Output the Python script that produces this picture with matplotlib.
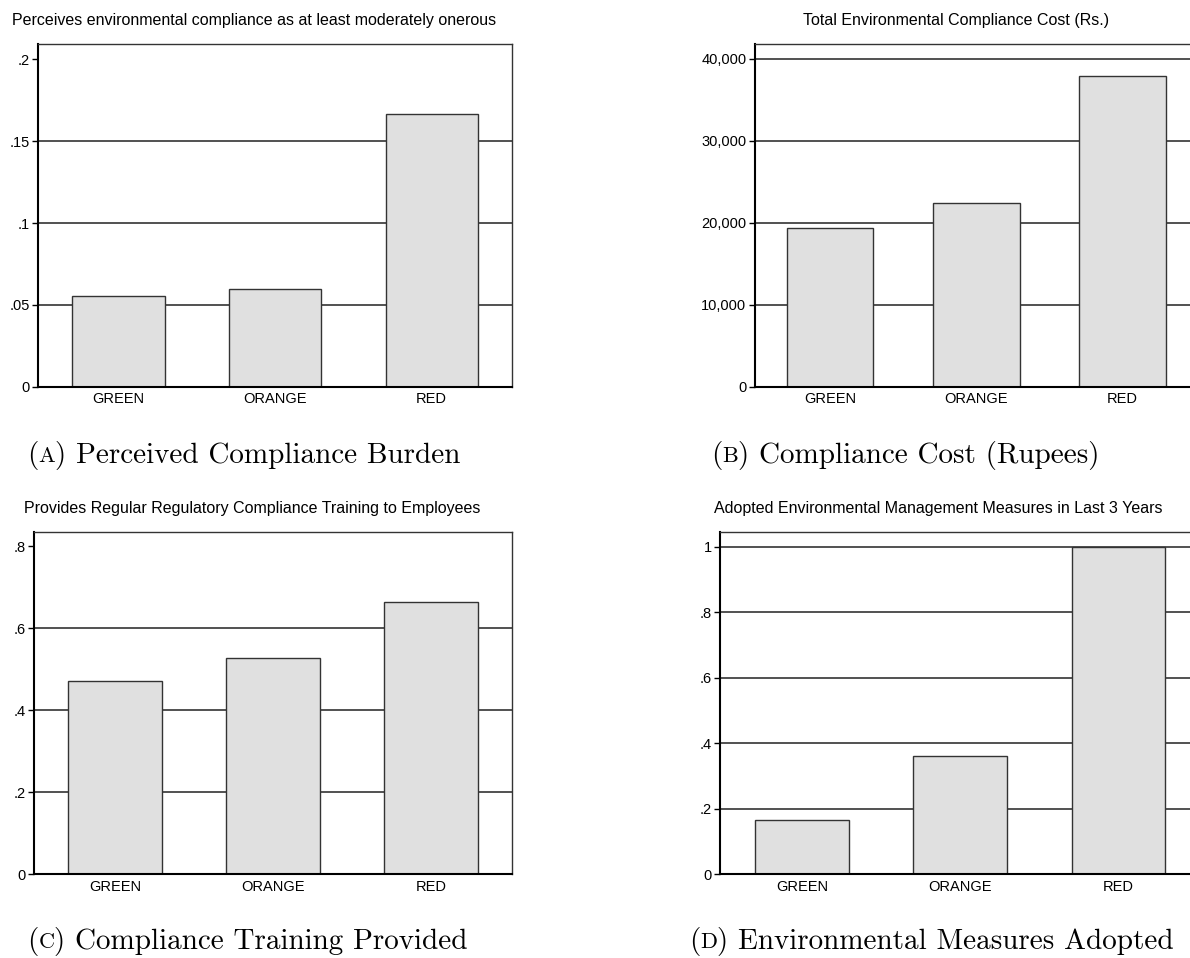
"""
Four bar panels comparing GREEN / ORANGE / RED category firms on
environmental compliance indicators (Stata-style look).
"""

import matplotlib
matplotlib.use("Agg")
import matplotlib.pyplot as plt
from matplotlib.offsetbox import TextArea, HPacker, AnchoredOffsetbox

plt.rcParams["font.family"] = ["Liberation Sans", "DejaVu Sans"]

CATEGORIES = ["GREEN", "ORANGE", "RED"]

BURDEN = [0.0552, 0.0599, 0.1664]
COST = [19390, 22360, 37920]
TRAINING = [0.4704, 0.528, 0.664]
MEASURES = [0.165, 0.3595, 1.0]

BURDEN_TICKS = [0, 0.05, 0.1, 0.15, 0.2]
BURDEN_LABELS = ["0", ".05", ".1", ".15", ".2"]
BURDEN_GRID = [0.05, 0.1, 0.15]

COST_TICKS = [0, 10000, 20000, 30000, 40000]
COST_LABELS = ["0", "10,000", "20,000", "30,000", "40,000"]
COST_GRID = [10000, 20000, 30000, 40000]

TRAINING_TICKS = [0, 0.2, 0.4, 0.6, 0.8]
TRAINING_LABELS = ["0", ".2", ".4", ".6", ".8"]
TRAINING_GRID = [0.2, 0.4, 0.6]

MEASURES_TICKS = [0, 0.2, 0.4, 0.6, 0.8, 1.0]
MEASURES_LABELS = ["0", ".2", ".4", ".6", ".8", "1"]
MEASURES_GRID = [0.2, 0.4, 0.6, 0.8, 1.0]

W, H = 1190, 958


def px_axes(fig, left, top, right, bottom):
    return fig.add_axes([left / W, 1 - bottom / H, (right - left) / W, (bottom - top) / H])


def bar_panel(ax, values, ymax, ticks, labels, grid):
    x = range(len(CATEGORIES))
    for g in grid:
        ax.axhline(g, color="#222222", lw=1.1, zorder=1)
    ax.bar(x, values, width=0.59, color="#e0e0e0", edgecolor="#333333", lw=1.0, zorder=2)
    ax.set_xlim(-0.515, 2.515)
    ax.set_ylim(0, ymax)
    ax.set_xticks(list(x))
    ax.set_xticklabels(CATEGORIES, fontsize=10.5)
    ax.set_yticks(ticks)
    ax.set_yticklabels(labels, fontsize=10.5)
    ax.tick_params(axis="x", length=0, pad=4)
    ax.tick_params(axis="y", length=4, width=1, pad=2, direction="out")
    for side in ["top", "right"]:
        ax.spines[side].set_linewidth(1.0)
        ax.spines[side].set_color("#333333")
    for side in ["left", "bottom"]:
        ax.spines[side].set_linewidth(1.5)
        ax.spines[side].set_color("black")


def caption(fig, x, y, letter, text):
    big = dict(fontsize=21, family="cmr10", color="black")
    small = dict(fontsize=16, family="cmr10", color="black")
    box = HPacker(children=[TextArea("(", textprops=big),
                            TextArea(letter, textprops=small),
                            TextArea(") " + text, textprops=big)],
                  align="baseline", pad=0, sep=0)
    fig.add_artist(AnchoredOffsetbox(loc="center left", child=box, pad=0, borderpad=0,
                                     frameon=False, bbox_to_anchor=(x / W, 1 - y / H),
                                     bbox_transform=fig.transFigure))


fig = plt.figure(figsize=(W / 100, H / 100), dpi=100)

ax_a = px_axes(fig, 38, 44.3, 512.3, 386.7)
bar_panel(ax_a, BURDEN, 0.2092, BURDEN_TICKS, BURDEN_LABELS, BURDEN_GRID)

ax_b = px_axes(fig, 754.7, 44.3, 1198, 386.7)
bar_panel(ax_b, COST, 41750, COST_TICKS, COST_LABELS, COST_GRID)

ax_c = px_axes(fig, 33.7, 532.3, 512.3, 874)
bar_panel(ax_c, TRAINING, 0.834, TRAINING_TICKS, TRAINING_LABELS, TRAINING_GRID)

ax_d = px_axes(fig, 720.3, 532.3, 1200, 874)
bar_panel(ax_d, MEASURES, 1.044, MEASURES_TICKS, MEASURES_LABELS, MEASURES_GRID)

title_kw = dict(fontsize=11.5, ha="center", va="center", color="black")
fig.text(254 / W, 1 - 20.5 / H, "Perceives environmental compliance as at least moderately onerous", **title_kw)
fig.text(955.7 / W, 1 - 20.5 / H, "Total Environmental Compliance Cost (Rs.)", **title_kw)
fig.text(252 / W, 1 - 508 / H, "Provides Regular Regulatory Compliance Training to Employees", **title_kw)
fig.text(938.5 / W, 1 - 508 / H, "Adopted Environmental Management Measures in Last 3 Years", **title_kw)

caption(fig, 27, 455, "A", "Perceived Compliance Burden")
caption(fig, 711, 455, "B", "Compliance Cost (Rupees)")
caption(fig, 27, 941, "C", "Compliance Training Provided")
caption(fig, 689, 941, "D", "Environmental Measures Adopted")

fig.savefig("out.png", dpi=100)
